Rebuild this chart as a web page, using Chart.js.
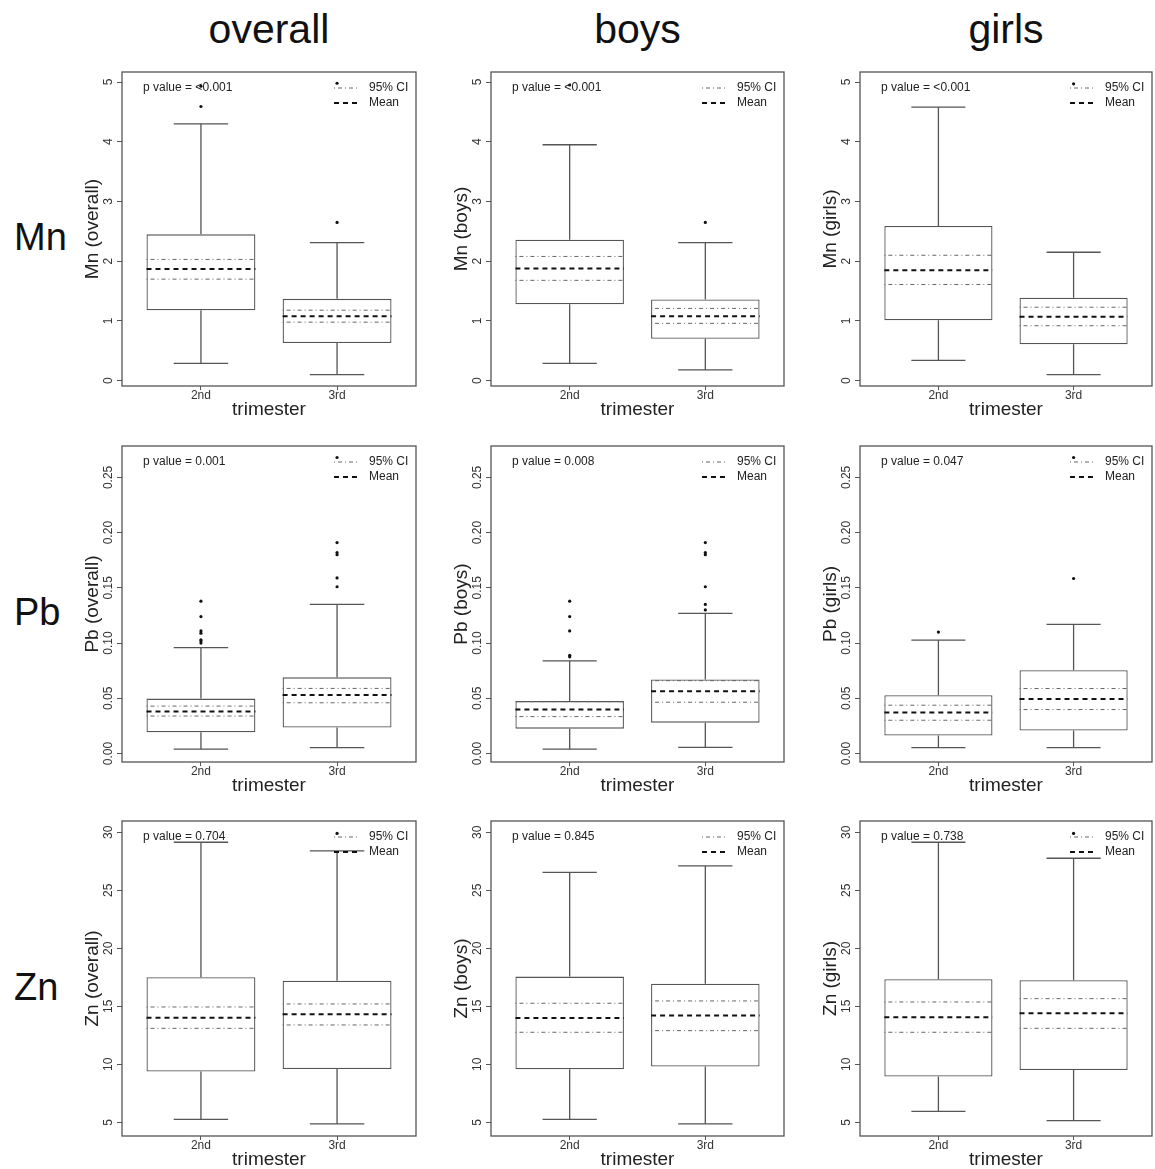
<!DOCTYPE html>
<html>
<head>
<meta charset="utf-8">
<script src="https://cdn.jsdelivr.net/npm/chart.js@4.4.1/dist/chart.umd.min.js"></script>
<style>
  body { margin: 0; background: #fff; width: 1155px; height: 1169px; position: relative; overflow: hidden;
         font-family: "Liberation Sans", Arial, sans-serif; }
  canvas { position: absolute; }
  .coltitle { position: absolute; font-size: 41px; line-height: 41px; color: #111; transform: translateX(-50%); white-space: nowrap; }
  .rowlabel { position: absolute; font-size: 38px; line-height: 38px; color: #111; }
</style>
</head>
<body>
<script>
// columns and x categories
const groups = ['overall', 'boys', 'girls'];
const trimesters = ['2nd', '3rd'];

// every stat is [group][trimester]
// Mn
const mnLow  = [[0.29, 0.10], [0.29, 0.18], [0.34, 0.10]];
const mnQ1   = [[1.18, 0.63], [1.28, 0.70], [1.01, 0.61]];
const mnCiLo = [[1.70, 0.98], [1.68, 0.96], [1.61, 0.92]];
const mnMean = [[1.87, 1.08], [1.88, 1.08], [1.85, 1.07]];
const mnCiHi = [[2.03, 1.18], [2.08, 1.21], [2.10, 1.23]];
const mnQ3   = [[2.45, 1.37], [2.36, 1.36], [2.59, 1.39]];
const mnHigh = [[4.30, 2.31], [3.95, 2.31], [4.58, 2.15]];
const mnOut  = [[[4.59, 4.93], [2.65, 4.98]], [[4.95], [2.65]], [[], [4.97]]];
const mnP    = ['<0.001', '<0.001', '<0.001'];
const mnTicks = [0, 1, 2, 3, 4, 5];

// Pb
const pbLow  = [[0.0040, 0.0054], [0.0040, 0.0057], [0.0054, 0.0054]];
const pbQ1   = [[0.0193, 0.0236], [0.0226, 0.0280], [0.0163, 0.0208]];
const pbCiLo = [[0.0340, 0.0460], [0.0335, 0.0465], [0.0302, 0.0399]];
const pbMean = [[0.0380, 0.0530], [0.0400, 0.0565], [0.0371, 0.0495]];
const pbCiHi = [[0.0430, 0.0590], [0.0470, 0.0660], [0.0438, 0.0589]];
const pbQ3   = [[0.0498, 0.0690], [0.0475, 0.0670], [0.0528, 0.0755]];
const pbHigh = [[0.0960, 0.1350], [0.0840, 0.1270], [0.1027, 0.1170]];
const pbOut  = [
  [[0.100, 0.102, 0.103, 0.109, 0.111, 0.124, 0.138], [0.151, 0.159, 0.180, 0.182, 0.191, 0.268]],
  [[0.0876, 0.089, 0.111, 0.124, 0.138], [0.130, 0.135, 0.151, 0.180, 0.182, 0.191]],
  [[0.110], [0.1585, 0.268]]
];
const pbP    = ['0.001', '0.008', '0.047'];
const pbTicks = [0, 0.05, 0.10, 0.15, 0.20, 0.25];

// Zn
const znLow  = [[5.26, 4.86], [5.26, 4.86], [5.95, 5.14]];
const znQ1   = [[9.37, 9.60], [9.57, 9.80], [8.94, 9.51]];
const znCiLo = [[13.10, 13.39], [12.76, 12.90], [12.76, 13.10]];
const znMean = [[14.02, 14.31], [14.00, 14.20], [14.05, 14.40]];
const znCiHi = [[14.94, 15.20], [15.26, 15.46], [15.37, 15.66]];
const znQ3   = [[17.50, 17.21], [17.56, 16.95], [17.33, 17.24]];
const znHigh = [[29.14, 28.39], [26.55, 27.10], [29.14, 27.76]];
const znOut  = [[[], [29.9]], [[], []], [[], [29.9]]];
const znP    = ['0.704', '0.845', '0.738'];
const znTicks = [5, 10, 15, 20, 25, 30];

const elements = [
  { name: 'Mn', low: mnLow, q1: mnQ1, ciLo: mnCiLo, mean: mnMean, ciHi: mnCiHi, q3: mnQ3, high: mnHigh,
    out: mnOut, p: mnP, ticks: mnTicks, min: -0.089, max: 5.168, dec: 0 },
  { name: 'Pb', low: pbLow, q1: pbQ1, ciLo: pbCiLo, mean: pbMean, ciHi: pbCiHi, q3: pbQ3, high: pbHigh,
    out: pbOut, p: pbP, ticks: pbTicks, min: -0.0076, max: 0.2784, dec: 2 },
  { name: 'Zn', low: znLow, q1: znQ1, ciLo: znCiLo, mean: znMean, ciHi: znCiHi, q3: znQ3, high: znHigh,
    out: znOut, p: znP, ticks: znTicks, min: 3.82, max: 30.97, dec: 0 }
];

// layout of the plot frames
const colLeft = [122, 491, 860], colWidth = [294, 293, 292];
const rowTop = [72, 446, 821], rowHeight = [314, 316, 315];
const BOX_HALF = 0.4, CAP_HALF = 0.2;
const FONT = '"Liberation Sans", Arial, sans-serif';

Chart.defaults.font.family = FONT;
Chart.defaults.color = '#333';

// frame, rotated y labels, p value and legend
const panelDecor = {
  id: 'panelDecor',
  afterDraw(chart, args, opts) {
    const { ctx, chartArea: a } = chart;
    const y = chart.scales.y;
    ctx.save();
    ctx.strokeStyle = '#555';
    ctx.lineWidth = 1.3;
    ctx.strokeRect(a.left, a.top, a.right - a.left, a.bottom - a.top);

    ctx.fillStyle = '#333';
    ctx.font = '12px ' + FONT;
    ctx.textAlign = 'center';
    ctx.textBaseline = 'middle';
    y.ticks.forEach(t => {
      ctx.save();
      ctx.translate(a.left - 13, y.getPixelForValue(t.value));
      ctx.rotate(-Math.PI / 2);
      ctx.fillText(t.value.toFixed(opts.dec), 0, 0);
      ctx.restore();
    });

    ctx.fillStyle = '#222';
    ctx.textAlign = 'left';
    ctx.fillText('p value = ' + opts.p, a.left + 21, a.top + 16);

    // legend
    ctx.strokeStyle = '#666';
    ctx.lineWidth = 1;
    ctx.setLineDash([1, 3, 4, 3]);
    ctx.beginPath();
    ctx.moveTo(a.right - 82, a.top + 16);
    ctx.lineTo(a.right - 58, a.top + 16);
    ctx.stroke();
    ctx.strokeStyle = '#111';
    ctx.lineWidth = 2;
    ctx.setLineDash([5, 4]);
    ctx.beginPath();
    ctx.moveTo(a.right - 82, a.top + 31);
    ctx.lineTo(a.right - 58, a.top + 31);
    ctx.stroke();
    ctx.fillText('95% CI', a.right - 47, a.top + 16);
    ctx.fillText('Mean', a.right - 47, a.top + 31);
    ctx.restore();
  }
};

function seg(x0, x1, v) {
  return [{ x: x0, y: v }, { x: x1, y: v }, { x: x1, y: null }];
}

function makePanel(e, ri, g, gi) {
  const L = colLeft[gi], T = rowTop[ri], W = colWidth[gi], H = rowHeight[ri];
  const cv = document.createElement('canvas');
  cv.width = W + 65; cv.height = H + 50;
  cv.style.left = (L - 60) + 'px';
  cv.style.top = (T - 5) + 'px';
  document.body.appendChild(cv);

  const xs = trimesters.map((t, i) => i + 1);
  const whiskers = xs.flatMap((x, i) => [
    { x, y: e.low[gi][i] }, { x, y: e.q1[gi][i] }, { x, y: null },
    { x, y: e.q3[gi][i] }, { x, y: e.high[gi][i] }, { x, y: null }
  ]);
  const caps = xs.flatMap((x, i) => [
    ...seg(x - CAP_HALF, x + CAP_HALF, e.low[gi][i]),
    ...seg(x - CAP_HALF, x + CAP_HALF, e.high[gi][i])
  ]);
  const means = xs.flatMap((x, i) => seg(x - BOX_HALF, x + BOX_HALF, e.mean[gi][i]));
  const cis = xs.flatMap((x, i) => [
    ...seg(x - BOX_HALF, x + BOX_HALF, e.ciLo[gi][i]),
    ...seg(x - BOX_HALF, x + BOX_HALF, e.ciHi[gi][i])
  ]);
  const outs = xs.flatMap((x, i) => e.out[gi][i].map(v => ({ x, y: v })));

  const lineBase = { type: 'line', pointRadius: 0, spanGaps: false, fill: false };

  new Chart(cv, {
    type: 'bar',
    data: {
      datasets: [
        { ...lineBase, data: means, borderColor: '#111', borderWidth: 2, borderDash: [5, 4] },
        { ...lineBase, data: cis, borderColor: '#666', borderWidth: 1, borderDash: [1, 3, 4, 3] },
        { ...lineBase, data: whiskers, borderColor: '#555', borderWidth: 1.3 },
        { ...lineBase, data: caps, borderColor: '#555', borderWidth: 1.3 },
        { type: 'line', showLine: false, data: outs, pointRadius: 1.6, pointBackgroundColor: '#111',
          pointBorderWidth: 0 },
        { type: 'bar', data: xs.map((x, i) => ({ x, y: [e.q1[gi][i], e.q3[gi][i]] })),
          backgroundColor: '#fff', borderColor: '#555', borderWidth: 1.3, borderSkipped: false,
          barPercentage: 0.8, categoryPercentage: 1, order: 10 }
      ]
    },
    options: {
      responsive: false,
      animation: false,
      events: [],
      layout: { padding: { top: 5, right: 5, left: 0, bottom: 0 } },
      plugins: {
        legend: { display: false },
        tooltip: { enabled: false },
        panelDecor: { p: e.p[gi], dec: e.dec }
      },
      scales: {
        x: {
          type: 'linear', min: 0.42, max: 2.58, offset: false,
          afterBuildTicks: s => { s.ticks = xs.map(v => ({ value: v })); },
          afterFit: s => { s.height = 45; },
          grid: { offset: false, drawOnChartArea: false, tickLength: 4, tickColor: '#555' },
          border: { display: false },
          ticks: { font: { size: 12 }, color: '#333', padding: -2, maxRotation: 0,
                   callback: v => trimesters[v - 1] },
          title: { display: true, text: 'trimester', font: { size: 19 }, color: '#222',
                   padding: { top: 0, bottom: 10 } }
        },
        y: {
          type: 'linear', min: e.min, max: e.max,
          afterBuildTicks: s => { s.ticks = e.ticks.map(v => ({ value: v })); },
          afterFit: s => { s.width = 60; },
          grid: { drawOnChartArea: false, tickLength: 5, tickColor: '#555' },
          border: { display: false },
          ticks: { display: false },
          title: { display: true, text: e.name + ' (' + g + ')', font: { size: 19 }, color: '#222',
                   padding: { top: 19, bottom: 0 } }
        }
      }
    },
    plugins: [panelDecor]
  });
}

groups.forEach((g, gi) => {
  const d = document.createElement('div');
  d.className = 'coltitle';
  d.textContent = g;
  d.style.left = (colLeft[gi] + colWidth[gi] / 2) + 'px';
  d.style.top = '9px';
  document.body.appendChild(d);
});

elements.forEach((e, ri) => {
  const d = document.createElement('div');
  d.className = 'rowlabel';
  d.textContent = e.name;
  d.style.left = '14px';
  d.style.top = (rowTop[ri] + rowHeight[ri] / 2 + 21 - 32) + 'px';
  document.body.appendChild(d);
  groups.forEach((g, gi) => makePanel(e, ri, g, gi));
});
</script>
</body>
</html>
